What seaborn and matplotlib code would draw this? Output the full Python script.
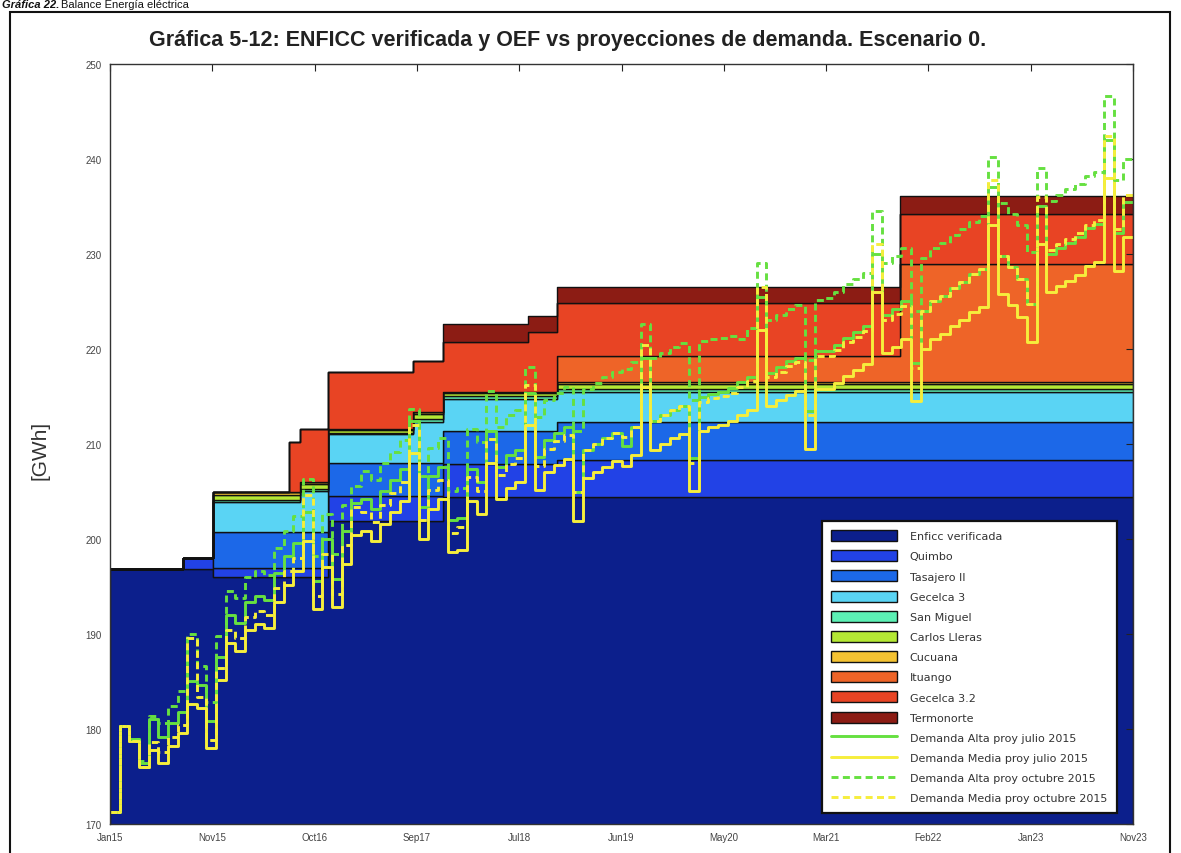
import numpy as np
import pandas as pd
import matplotlib
matplotlib.use("Agg")
import matplotlib.pyplot as plt
import seaborn as sns
from matplotlib.patches import Patch, Rectangle
from matplotlib.lines import Line2D

sns.set_theme(style="white")
plt.rcParams['font.family'] = ['Liberation Sans', 'DejaVu Sans']

# ---------------------------------------------------------------
# Time axis: month index, 0 = Jan 2015 ... 106 = Nov 2023
# ---------------------------------------------------------------
n_months = 107
tick_labels = ["Jan15", "Nov15", "Oct16", "Sep17", "Jul18", "Jun19",
               "May20", "Mar21", "Feb22", "Jan23", "Nov23"]

# ENFICC blocks: each period starts at the given month and lasts to the next one
period_start = [0, 7.6, 10.7, 18.5, 19.7, 22.6, 31.4, 34.5, 43.3, 46.3, 81.9]
period_end = 106

enficc_verificada = [196.8, 196.8, 196.0, 196.0, 196.0, 201.9, 201.9, 204.4, 204.4, 204.4, 204.4]
quimbo            = [0.0,   1.2,   0.9,   0.9,   0.9,   2.6,   2.6,   3.5,   3.5,   3.9,   3.9]
tasajero_ii       = [0.0,   0.0,   3.8,   3.8,   3.8,   3.5,   3.5,   3.5,   3.5,   4.0,   4.0]
gecelca_3         = [0.0,   0.0,   3.2,   3.2,   4.3,   3.0,   4.3,   3.3,   3.3,   3.2,   3.2]
san_miguel        = [0.0,   0.0,   0.25,  0.25,  0.25,  0.2,   0.3,   0.3,   0.3,   0.3,   0.3]
carlos_lleras     = [0.0,   0.0,   0.5,   0.5,   0.5,   0.3,   0.6,   0.4,   0.4,   0.5,   0.5]
cucuana           = [0.0,   0.0,   0.25,  0.25,  0.25,  0.1,   0.2,   0.1,   0.1,   0.2,   0.2]
ituango           = [0.0,   0.0,   0.0,   0.0,   0.0,   0.0,   0.0,   0.0,   0.0,   2.8,   12.4]
gecelca_32        = [0.0,   0.0,   0.0,   5.3,   5.6,   6.0,   5.3,   5.2,   6.3,   5.5,   5.3]
termonorte        = [0.0,   0.0,   0.0,   0.0,   0.0,   0.0,   0.0,   1.9,   1.7,   1.7,   1.9]

plant_names = ["Enficc verificada", "Quimbo", "Tasajero II", "Gecelca 3", "San Miguel",
               "Carlos Lleras", "Cucuana", "Ituango", "Gecelca 3.2", "Termonorte"]
plant_colors = ["#0c1f8c", "#2242e6", "#1c68e8", "#5ad4f4", "#5cf0b4",
                "#b4e834", "#f4c232", "#ee6428", "#e84424", "#8c1c14"]

# ---------------------------------------------------------------
# Demand projections [GWh], monthly
# ---------------------------------------------------------------
media_julio = [
    171.3, 180.3, 178.7, 176.0, 177.8, 176.4, 178.2, 179.6, 182.6, 182.2, 178.0, 185.2,
    189.0, 188.2, 190.4, 191.0, 190.6, 193.4, 195.2, 196.6, 199.8, 192.6, 197.0, 192.8,
    197.4, 200.4, 200.8, 199.8, 201.6, 202.8, 204.0, 209.0, 200.0, 203.2, 204.2, 198.6,
    198.8, 204.0, 202.6, 208.0, 204.2, 205.4, 206.0, 212.0, 205.2, 207.0, 207.8, 208.4,
    201.9, 206.4, 207.0, 207.6, 208.2, 207.7, 208.8, 216.0, 209.4, 210.0, 210.6, 211.0,
    205.0, 211.4, 211.8, 212.0, 212.4, 213.0, 213.6, 222.0, 214.0, 214.6, 215.2, 215.6,
    209.5, 215.8, 215.8, 216.4, 217.2, 217.8, 218.4, 226.0, 219.6, 220.2, 221.0, 214.5,
    220.0, 221.0, 221.6, 222.4, 223.0, 223.9, 224.4, 233.0, 225.8, 224.6, 223.4, 220.7,
    231.0, 226.0, 226.6, 227.2, 227.8, 228.7, 229.2, 238.0, 228.2, 231.8, 231.8]
alta_julio = [
    171.3, 180.3, 178.9, 176.4, 181.0, 179.2, 180.6, 181.8, 185.0, 184.6, 180.8, 187.6,
    192.0, 191.2, 193.4, 194.0, 193.6, 196.4, 198.2, 199.6, 202.8, 195.6, 200.0, 195.8,
    200.8, 203.8, 204.2, 203.2, 205.0, 206.2, 207.4, 212.4, 203.4, 206.6, 207.6, 202.0,
    202.2, 207.4, 206.0, 211.4, 207.6, 208.8, 209.4, 215.4, 208.6, 210.4, 211.2, 211.8,
    204.9, 209.4, 210.0, 210.6, 211.2, 209.8, 211.8, 219.0, 212.4, 213.0, 213.6, 214.0,
    208.5, 214.9, 215.3, 215.5, 215.9, 216.5, 217.1, 225.5, 217.5, 218.1, 218.7, 219.1,
    213.5, 219.8, 219.8, 220.4, 221.2, 221.8, 222.4, 230.0, 223.6, 224.2, 225.0, 218.5,
    224.0, 225.0, 225.6, 226.4, 227.0, 227.9, 228.4, 237.0, 229.8, 228.6, 227.4, 224.7,
    235.0, 230.0, 230.6, 231.2, 231.8, 232.7, 233.2, 242.0, 232.2, 235.5, 235.5]
media_octubre = [
    171.3, 180.3, 178.7, 176.0, 178.6, 177.6, 179.2, 180.4, 189.6, 183.4, 178.8, 186.4,
    190.4, 189.6, 191.8, 192.4, 192.0, 194.8, 196.6, 198.0, 204.6, 194.0, 198.4, 194.2,
    199.4, 203.4, 202.8, 201.8, 203.6, 204.8, 206.0, 212.0, 202.0, 205.2, 206.2, 200.6,
    201.3, 206.5, 205.1, 210.5, 206.7, 207.9, 208.5, 216.2, 207.7, 209.5, 210.3, 210.9,
    204.9, 209.4, 210.0, 210.6, 211.2, 210.7, 211.8, 220.4, 212.4, 213.0, 213.6, 214.0,
    208.0, 214.4, 214.8, 215.0, 215.4, 216.0, 216.6, 226.5, 217.0, 217.6, 218.2, 218.6,
    213.0, 219.3, 219.3, 219.9, 220.7, 221.3, 221.9, 231.0, 223.1, 223.7, 224.5, 218.0,
    224.0, 225.0, 225.6, 226.4, 227.0, 227.9, 228.4, 237.8, 229.8, 228.6, 227.4, 224.7,
    236.0, 230.4, 231.0, 231.6, 232.2, 233.1, 233.6, 242.4, 232.6, 236.2, 236.2]
alta_octubre = [
    171.3, 180.3, 178.9, 176.6, 181.4, 180.6, 182.4, 184.0, 190.0, 186.6, 182.8, 189.8,
    194.5, 193.8, 196.0, 196.6, 196.2, 199.0, 200.8, 202.4, 206.3, 198.2, 202.6, 198.4,
    203.6, 205.6, 207.2, 206.2, 208.0, 209.2, 210.4, 213.7, 206.6, 209.6, 210.6, 205.0,
    205.4, 211.6, 210.2, 215.6, 211.8, 213.0, 213.6, 218.1, 212.8, 214.6, 215.4, 216.0,
    211.4, 215.8, 216.4, 217.0, 217.6, 217.9, 218.6, 222.6, 219.0, 219.6, 220.2, 220.6,
    214.6, 220.8, 221.0, 221.2, 221.4, 221.0, 222.2, 229.0, 223.0, 223.6, 224.2, 224.6,
    218.8, 225.2, 225.4, 226.0, 226.8, 227.4, 228.0, 234.5, 229.0, 229.8, 230.6, 224.0,
    229.6, 230.6, 231.2, 232.0, 232.6, 233.4, 234.0, 240.2, 235.4, 234.2, 233.0, 230.2,
    239.0, 235.6, 236.2, 236.8, 237.4, 238.2, 238.6, 246.6, 237.8, 240.0, 240.0]

demand_names = ["Demanda Alta proy julio 2015", "Demanda Media proy julio 2015",
                "Demanda Alta proy octubre 2015", "Demanda Media proy octubre 2015"]
demand_series = [alta_julio, media_julio, alta_octubre, media_octubre]
demand_colors = ["#66e040", "#f6ee3c", "#66e040", "#f6ee3c"]
demand_styles = ["-", "-", "--", "--"]
dash_pattern = (2.4, 1.5)

# ---------------------------------------------------------------
# Figure
# ---------------------------------------------------------------
fig = plt.figure(figsize=(11.81, 8.54), dpi=100)
ax = fig.add_axes([0.0931, 0.0340, 0.8663, 0.8899])

# Stacked ENFICC blocks drawn as stairs
edges = np.array(period_start + [period_end], dtype=float)
layers = [enficc_verificada, quimbo, tasajero_ii, gecelca_3, san_miguel,
          carlos_lleras, cucuana, ituango, gecelca_32, termonorte]
base = np.full(len(period_start), 0.0)
for name, vals, col in zip(plant_names, layers, plant_colors):
    top = base + np.array(vals)
    lo = np.append(base, base[-1])
    hi = np.append(top, top[-1])
    if name == "Enficc verificada":
        lo = np.full_like(hi, 160.0)
    ax.fill_between(edges, lo, hi, step="post", facecolor=col,
                    edgecolor="#111111", linewidth=1.0, zorder=2)
    base = top

# Demand projections as monthly stairs
months = np.arange(n_months)
frames = []
for name, vals in zip(demand_names, demand_series):
    frames.append(pd.DataFrame({"mes": months, "GWh": vals, "serie": name}))
demand = pd.concat(frames, ignore_index=True)

for name, col, ls in zip(demand_names, demand_colors, demand_styles):
    sub = demand[demand["serie"] == name]
    sns.lineplot(data=sub, x="mes", y="GWh", ax=ax, color=col,
                 linewidth=2.1, drawstyle="steps-post", zorder=3,
                 dashes=False, legend=False)
    if ls == "--":
        ax.lines[-1].set_dashes(dash_pattern)

ax.set_xlim(0, 106)
ax.set_ylim(170, 250)
ax.set_xticks(np.linspace(0, 106, 11))
ax.set_xticklabels(tick_labels)
ax.set_yticks(np.arange(170, 251, 10))
ax.set_xlabel("")
ax.set_ylabel("")
ax.tick_params(axis="both", which="both", direction="in", length=5, width=0.8,
               labelsize=7, colors="#222222", top=True, right=True, pad=6,
               labelcolor="#444444")
for sp in ax.spines.values():
    sp.set_color("#333333")
    sp.set_linewidth(1.0)
    sp.set_zorder(5)
ax.set_axisbelow(False)

# Legend
handles = [Patch(facecolor=c, edgecolor="#111111", linewidth=1.0) for c in plant_colors]
handles += [Line2D([0], [0], color=c, linewidth=2.1,
                   dashes=() if ls == "-" else dash_pattern)
            for c, ls in zip(demand_colors, demand_styles)]
labels = plant_names + demand_names
leg = ax.legend(handles, labels, loc="lower right", bbox_to_anchor=(0.984, 0.0145),
                prop={"family": "DejaVu Sans", "size": 8.0}, frameon=True,
                fancybox=False, handlelength=5.9, handleheight=1.15,
                labelspacing=0.8, handletextpad=1.2, borderpad=0.85,
                borderaxespad=0.0)
leg.get_frame().set_edgecolor("#111111")
leg.get_frame().set_linewidth(1.6)
leg.get_frame().set_facecolor("white")
leg.get_frame().set_alpha(1.0)
leg.set_zorder(6)
for t in leg.get_texts():
    t.set_color("#333333")

# Titles and frame
fig.text(0.481, 0.953, "Gráfica 5-12: ENFICC verificada y OEF vs proyecciones de demanda. Escenario 0.",
         ha="center", va="center", fontsize=15.5, fontweight="bold", color="#222222")
fig.text(0.034, 0.473, "[GWh]", ha="center", va="center", rotation=90,
         fontsize=15, color="#333333")
fig.text(0.002, 0.9995, "Gráfica 22.", ha="left", va="top", fontsize=8,
         fontweight="bold", fontstyle="italic", color="#111111")
fig.text(0.052, 0.9995, "Balance Energía eléctrica", ha="left", va="top",
         fontsize=8, color="#111111")
fig.patches.append(Rectangle((0.0085, -0.02), 0.982, 1.0048, transform=fig.transFigure,
                             fill=False, edgecolor="#111111", linewidth=1.5))

fig.savefig("out.png", dpi=100)
